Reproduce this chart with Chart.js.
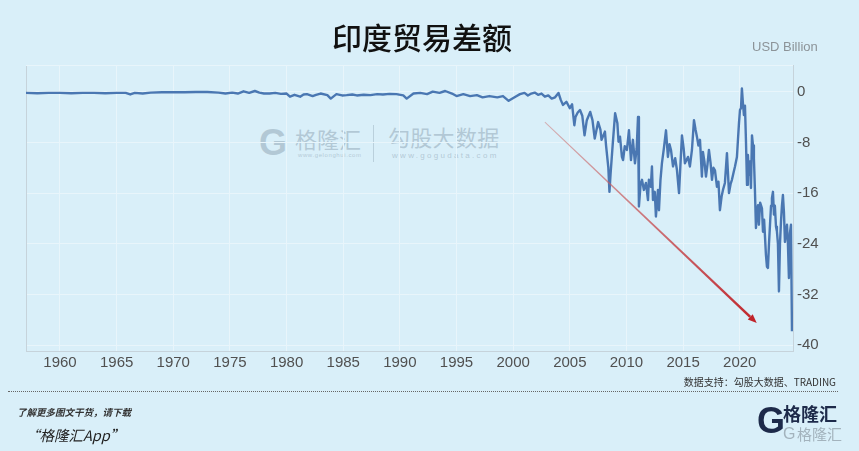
<!DOCTYPE html>
<html><head><meta charset="utf-8">
<script src="https://cdn.jsdelivr.net/npm/chart.js@4.4.1/dist/chart.umd.min.js"></script>
<style>
html,body{margin:0;padding:0;background:#d9eff9;}
#wrap{position:relative;width:859px;height:451px;overflow:hidden;background:#d9eff9;font-family:"Noto Sans CJK SC","Noto Sans",sans-serif;}
.abs{position:absolute;white-space:nowrap;}
.wm{color:rgba(140,162,178,0.5);}
</style></head><body>
<div id="wrap">
  <!-- watermark -->
  <div class="abs wm" style="left:259px;top:124px;font:900 36px 'Liberation Sans',sans-serif;line-height:38px;">G</div>
  <div class="abs wm" style="left:295px;top:124px;font-size:22px;line-height:28px;">格隆汇</div>
  <div class="abs wm" style="left:298px;top:151px;font-size:6px;line-height:8px;letter-spacing:0.6px;font-family:'Liberation Sans',sans-serif;">www.gelonghui.com</div>
  <div class="abs" style="left:373px;top:125px;width:1px;height:37px;background:rgba(140,162,178,0.4);"></div>
  <div class="abs wm" style="left:388px;top:122px;font-size:22px;line-height:28px;letter-spacing:0.3px;">勾股大数据</div>
  <div class="abs wm" style="left:392px;top:151px;font-size:8px;line-height:10px;letter-spacing:2.3px;font-family:'Liberation Sans',sans-serif;">www.gogudata.com</div>

  <canvas id="c" width="859" height="451" style="position:absolute;left:0;top:0;"></canvas>

  <div class="abs" style="left:0;width:844px;text-align:center;top:19px;font-size:30px;line-height:34px;font-weight:500;color:#111;">印度贸易差额</div>
  <div class="abs" style="left:752px;top:39px;font:13px 'Liberation Sans',sans-serif;line-height:16px;color:#8c9398;">USD Billion</div>
  <div class="abs" style="right:23px;top:375px;font-size:10px;line-height:13px;color:#333;">数据支持：勾股大数据、TRADING</div>
  <div class="abs" style="left:8px;top:391px;width:830px;border-top:1px dotted #666;"></div>
  <div class="abs" style="left:17px;top:406px;font-size:9.5px;line-height:13px;font-style:italic;font-weight:bold;color:#333;">了解更多图文干货，请下载</div>
  <div class="abs" style="left:25px;top:426px;font-size:14.5px;line-height:18px;font-style:italic;color:#222;">“格隆汇App”</div>
  <div class="abs" style="left:757px;top:401px;font:900 36px 'Liberation Sans',sans-serif;line-height:40px;color:#1d2a4a;">G</div>
  <div class="abs" style="left:783px;top:402px;font-size:18px;line-height:22px;font-weight:bold;color:#1d2a4a;">格隆汇</div>
  <div class="abs" style="left:783px;top:425px;font:16px 'Liberation Sans',sans-serif;line-height:18px;color:rgba(110,120,130,0.5);">G</div>
  <div class="abs" style="left:797px;top:424px;font-size:15px;line-height:20px;color:rgba(110,120,130,0.5);">格隆汇</div>
</div>
<script>
const years = [
1957.0,1958.0,1959.0,1960.0,1961.0,1962.0,1963.0,1964.0,1965.0,1965.8,1966.2,1966.6,1967.3,1968.0,1969.0,1970.0,1971.0,1972.0,1973.0,1974.0,1974.6,1975.2,1975.7,1976.2,1976.7,1977.2,1977.6,1978.0,1978.5,1979.0,1979.5,
1980.0,1980.3,1980.7,1981.2,1981.5,1981.8,1982.3,1982.6,1983.0,1983.6,1983.9,1984.4,1984.9,1985.3,1985.8,1986.2,1986.8,1987.4,1988.0,1988.5,1989.1,1989.7,1990.3,1990.6,1991.2,1991.8,1992.4,1992.9,1993.5,1994.0,1994.6,1995.0,1995.6,1996.2,1996.8,1997.3,1997.9,1998.6,1999.1,1999.6,
2000.2,2000.6,2001.0,2001.3,2001.6,2001.9,2002.2,2002.5,2002.8,2003.1,2003.4,2003.7,2004.0,2004.2,2004.4,2004.7,2005.0,2005.2,2005.4,2005.5,2005.7,2005.9,2006.1,2006.3,2006.5,2006.8,2007.0,2007.2,2007.5,2007.7,2007.8,2008.1,2008.2,2008.4,2008.5,2008.6,2008.8,2009.0,2009.2,2009.3,2009.43,2009.6,2009.7,2009.85,
2010.04,2010.22,2010.4,2010.57,2010.75,2010.9,2011.02,2011.1,2011.25,2011.37,2011.54,2011.72,2011.9,2011.98,2012.15,2012.25,2012.34,2012.5,2012.6,2012.78,2012.87,2013.0,2013.13,2013.3,2013.49,2013.66,2013.8,2013.93,2014.11,2014.3,2014.46,2014.64,2014.78,2014.9,2015.05,2015.16,2015.43,2015.6,2015.78,2015.96,
2016.1,2016.22,2016.35,2016.49,2016.66,2016.75,2016.88,2017.02,2017.15,2017.28,2017.42,2017.55,2017.68,2017.81,2017.99,2018.12,2018.25,2018.4,2018.52,2018.69,2018.87,2019.05,2019.2,2019.31,2019.45,2019.58,2019.75,2019.93,
2020.02,2020.11,2020.19,2020.28,2020.37,2020.46,2020.55,2020.64,2020.72,2020.81,2020.9,2020.99,2021.08,2021.17,2021.25,2021.34,2021.43,2021.52,2021.61,2021.69,2021.8,2021.96,2022.05,2022.15,2022.31,2022.4,2022.49,2022.58,2022.67,2022.76,2022.84,2022.93,
2023.02,2023.1,2023.2,2023.28,2023.37,2023.46,2023.55,2023.64,2023.72,2023.81,2023.9,2023.99,2024.08,2024.17,2024.25,2024.34,2024.43,2024.52,2024.61
];
const balances = [
-0.2,-0.25,-0.2,-0.2,-0.25,-0.2,-0.2,-0.25,-0.2,-0.2,-0.45,-0.2,-0.3,-0.15,-0.1,-0.1,-0.1,-0.05,-0.05,-0.15,-0.3,-0.15,-0.3,0.05,-0.2,0.1,-0.15,-0.3,-0.3,-0.2,-0.35,
-0.3,-0.8,-0.5,-0.8,-0.45,-0.4,-0.7,-0.5,-0.3,-0.55,-1.1,-0.4,-0.6,-0.55,-0.45,-0.6,-0.5,-0.55,-0.4,-0.45,-0.35,-0.4,-0.6,-1.1,-0.3,-0.2,-0.4,0.0,-0.2,0.1,-0.3,-0.7,-0.4,-0.7,-0.55,-0.9,-0.7,-0.9,-0.7,-1.45,
-0.8,-0.4,-0.2,-0.6,-0.3,-0.15,-0.5,-0.3,-0.8,-0.6,-1.1,-0.9,-0.2,-1.3,-2.1,-1.6,-2.6,-2.0,-5.3,-4.0,-3.3,-2.9,-3.8,-6.9,-4.5,-3.2,-4.5,-7.4,-4.8,-6.0,-7.6,-6.3,-8.5,-12.0,-15.8,-12.9,-8.0,-3.4,-5.0,-7.9,-7.1,-10.3,-10.8,-8.6,
-9.2,-6.1,-10.8,-7.6,-11.3,-9.0,-4.0,-18.1,-14.5,-13.9,-15.5,-14.4,-17.1,-13.9,-15.0,-11.8,-17.1,-15.8,-19.7,-15.5,-18.7,-14.0,-11.3,-9.0,-6.1,-10.3,-8.3,-9.2,-11.8,-10.5,-12.4,-16.0,-11.0,-6.9,-9.0,-11.3,-10.3,-11.8,-9.2,-4.5,
-6.0,-7.1,-8.5,-7.6,-13.4,-9.5,-11.0,-13.4,-11.5,-9.2,-11.2,-13.9,-12.0,-12.4,-15.0,-14.2,-18.7,-16.5,-15.5,-14.4,-9.7,-16.0,-14.5,-13.9,-12.8,-11.8,-10.3,-5.0,
-2.9,-2.6,0.5,-1.8,-3.7,-2.2,-7.9,-14.7,-10.0,-13.1,-11.0,-15.2,-6.9,-8.5,-10.5,-15.5,-21.5,-19.0,-17.9,-21.0,-17.5,-18.4,-22.1,-20.2,-25.7,-27.6,-27.8,-24.0,-21.0,-18.0,-16.8,-15.8,
-19.4,-18.0,-21.3,-22.0,-24.0,-31.5,-24.0,-20.5,-18.1,-16.3,-19.0,-23.7,-22.3,-21.0,-23.9,-29.4,-22.3,-21.0,-37.8
];
const xTickYears = [1960,1965,1970,1975,1980,1985,1990,1995,2000,2005,2010,2015,2020];
const yTickValues = [0,-8,-16,-24,-32,-40];
const arrowFrom = [2002.8, -4.8];
const arrowTo = [2021.5, -36.5];

const points = years.map((x, i) => ({x: x, y: balances[i]}));

const frame = {
  id: 'frame',
  beforeDatasetsDraw(chart) {
    const {ctx, chartArea: a} = chart;
    ctx.save();
    ctx.lineWidth = 1;
    ctx.strokeStyle = '#c6d3db';
    ctx.beginPath(); ctx.moveTo(a.left + 0.5, a.top); ctx.lineTo(a.left + 0.5, a.bottom); ctx.stroke();
    ctx.strokeStyle = '#e8f5fb';
    ctx.beginPath(); ctx.moveTo(a.left, a.top + 0.5); ctx.lineTo(a.right, a.top + 0.5); ctx.stroke();
    ctx.restore();
  }
};

const arrow = {
  id: 'arrow',
  afterDatasetsDraw(chart) {
    const xs = chart.scales.x, ys = chart.scales.y, ctx = chart.ctx;
    const x0 = xs.getPixelForValue(arrowFrom[0]), y0 = ys.getPixelForValue(arrowFrom[1]);
    const x1 = xs.getPixelForValue(arrowTo[0]), y1 = ys.getPixelForValue(arrowTo[1]);
    const dx = x1 - x0, dy = y1 - y0, L = Math.hypot(dx, dy);
    const ux = dx / L, uy = dy / L, nx = -uy, ny = ux;
    const head = 9, hw = 3.6, w0 = 0.45, w1 = 1.3;
    const bx = x1 - ux * head, by = y1 - uy * head;
    const g = ctx.createLinearGradient(x0, y0, x1, y1);
    g.addColorStop(0, 'rgba(205,120,120,0.55)');
    g.addColorStop(1, '#c0232a');
    ctx.save();
    ctx.fillStyle = g;
    ctx.beginPath();
    ctx.moveTo(x0 + nx * w0, y0 + ny * w0);
    ctx.lineTo(bx + nx * w1, by + ny * w1);
    ctx.lineTo(bx - nx * w1, by - ny * w1);
    ctx.lineTo(x0 - nx * w0, y0 - ny * w0);
    ctx.closePath(); ctx.fill();
    ctx.fillStyle = '#c0232a';
    ctx.beginPath();
    ctx.moveTo(x1, y1);
    ctx.lineTo(bx + nx * hw, by + ny * hw);
    ctx.lineTo(bx - nx * hw, by - ny * hw);
    ctx.closePath(); ctx.fill();
    ctx.restore();
  }
};

new Chart(document.getElementById('c'), {
  type: 'line',
  data: {
    datasets: [{
      label: '印度贸易差额',
      data: points,
      borderColor: '#4a77b2',
      borderWidth: 2.4,
      borderJoinStyle: 'round',
      pointRadius: 0,
      tension: 0,
      fill: false
    }]
  },
  options: {
    responsive: false,
    animation: false,
    devicePixelRatio: 1,
    layout: {padding: {left: 26, top: 65, right: 0, bottom: 0}},
    plugins: {legend: {display: false}, tooltip: {enabled: false}, title: {display: false}},
    scales: {
      x: {
        type: 'linear', min: 1957, max: 2024.7,
        afterBuildTicks(s) { s.ticks = xTickYears.map(v => ({value: v})); },
        afterFit(s) { s.height = 100; },
        ticks: {callback: v => String(v), color: '#505050', font: {family: 'Liberation Sans', size: 15}, padding: 3, maxRotation: 0, autoSkip: false},
        grid: {color: '#e8f5fb', drawTicks: false, lineWidth: 1},
        border: {display: true, color: '#c6d3db'}
      },
      y: {
        position: 'right', min: -40.9, max: 4.2,
        afterBuildTicks(s) { s.ticks = yTickValues.map(v => ({value: v})); },
        afterFit(s) { s.width = 66; },
        ticks: {callback: v => String(v), color: '#505050', font: {family: 'Liberation Sans', size: 15}, padding: 4},
        grid: {color: '#e8f5fb', drawTicks: false, lineWidth: 1},
        border: {display: true, color: '#c6d3db'}
      }
    }
  },
  plugins: [frame, arrow]
});
</script>
</body></html>
